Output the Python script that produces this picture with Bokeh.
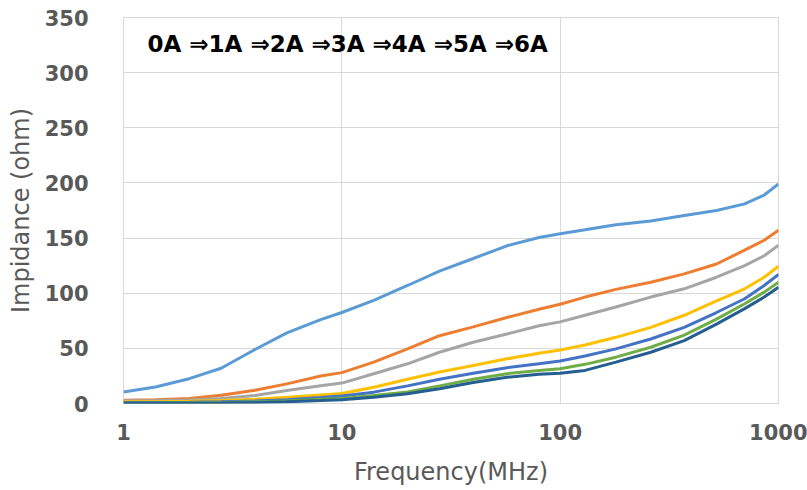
from bokeh.plotting import figure
from bokeh.models import FixedTicker, Label, PrintfTickFormatter, Range1d
from bokeh.embed import file_html
from bokeh.resources import INLINE

freq = [1, 1.4, 2, 2.8, 4, 5.6, 8, 10, 14, 20, 28, 40, 57, 80, 100, 130, 180, 260, 370, 520, 700, 860, 1000]

z_0A = [10.5, 15, 22.5, 32, 49, 64, 76, 82.5, 93.5, 107, 120, 131.5, 143, 150.5, 154, 157.5, 162, 165.5, 170.5, 175, 181, 189, 199]
z_1A = [3, 3.5, 4.5, 7.5, 12, 17.8, 25, 28, 37.5, 49.5, 61.5, 69.5, 78, 85.5, 90, 96.5, 103.5, 110, 117.5, 126.5, 139, 148, 157]
z_2A = [2.5, 2.7, 3.2, 4.5, 7.3, 11.8, 16, 18.5, 27, 36, 46.5, 55.5, 63, 70.5, 74, 80, 87.5, 96.5, 104, 114.5, 125, 134, 143.5]
z_3A = [1.5, 1.6, 2, 2.7, 3.8, 5.7, 7.8, 9, 14.8, 22, 28.5, 34.5, 40.5, 45.5, 48.5, 53, 60, 69, 80, 93, 104, 114.5, 124.5]
z_4A = [1, 1, 1.2, 1.6, 2.3, 3.5, 5.5, 6.8, 10.3, 16, 22, 27.5, 32.5, 36, 38.5, 43, 49.5, 58.5, 69, 82.5, 95, 107, 117]
z_5A = [0.5, 0.5, 0.7, 1, 1.5, 2.3, 3.8, 4.5, 7.3, 10.5, 16, 22, 27, 30, 31.5, 35.5, 42, 51, 62, 76.5, 90.5, 101, 110]
z_6A = [0.2, 0.2, 0.3, 0.5, 0.9, 1.5, 2.7, 3.5, 5.7, 8.8, 13.3, 19, 23.8, 26.5, 27.5, 30, 37.5, 46.5, 57, 72, 86, 96.5, 105.5]

series = [z_0A, z_1A, z_2A, z_3A, z_4A, z_5A, z_6A]
colors = ["#5B9BD5", "#ED7D31", "#A5A5A5", "#FFC000", "#4472C4", "#70AD47", "#255E91"]

x_ticks = [1, 10, 100, 1000]
y_ticks = [0, 50, 100, 150, 200, 250, 300, 350]
x_title = "Frequency(MHz)"
y_title = "Impidance (ohm)"
annotation = "0A \u21d21A \u21d22A \u21d23A \u21d24A \u21d25A \u21d26A"

p = figure(width=807, height=490, x_axis_type="log", output_backend="svg",
           toolbar_location=None, x_range=Range1d(1, 1000), y_range=Range1d(0, 350),
           min_border_left=123, min_border_right=29, min_border_top=17, min_border_bottom=87)

for ys, c in zip(series, colors):
    p.line(freq, ys, line_color=c, line_width=3)

p.outline_line_color = "#d9d9d9"
p.background_fill_color = "white"
p.border_fill_color = "white"

p.xaxis.ticker = FixedTicker(ticks=x_ticks, minor_ticks=[])
p.yaxis.ticker = FixedTicker(ticks=y_ticks, minor_ticks=[])
p.xaxis.formatter = PrintfTickFormatter(format="%d")
p.yaxis.formatter = PrintfTickFormatter(format="%d")

for ax in (p.xaxis, p.yaxis):
    ax.axis_line_color = None
    ax.major_tick_line_color = None
    ax.minor_tick_line_color = None
    ax.major_label_text_font = "DejaVu Sans"
    ax.major_label_text_font_style = "bold"
    ax.major_label_text_font_size = "21px"
    ax.major_label_text_color = "#595959"
    ax.major_label_text_line_height = 1.0
    ax.axis_label_text_font = "DejaVu Sans"
    ax.axis_label_text_font_style = "normal"
    ax.axis_label_text_font_size = "24px"
    ax.axis_label_text_color = "#595959"
    ax.axis_label_text_line_height = 1.0

p.xaxis.major_label_standoff = 14
p.yaxis.major_label_standoff = 29
p.xaxis.axis_label = x_title
p.yaxis.axis_label = y_title
p.xaxis.axis_label_standoff = 15
p.yaxis.axis_label_standoff = 7

p.xgrid.grid_line_color = "#d9d9d9"
p.ygrid.grid_line_color = "#d9d9d9"
p.xgrid.grid_line_width = 1
p.ygrid.grid_line_width = 1

p.add_layout(Label(x=24, y=360, x_units="screen", y_units="screen", text=annotation,
                   text_font="DejaVu Sans", text_font_style="bold", text_font_size="23px",
                   text_color="black", text_baseline="middle", text_align="left"))

open("out.html", "w").write(file_html(p, INLINE))
